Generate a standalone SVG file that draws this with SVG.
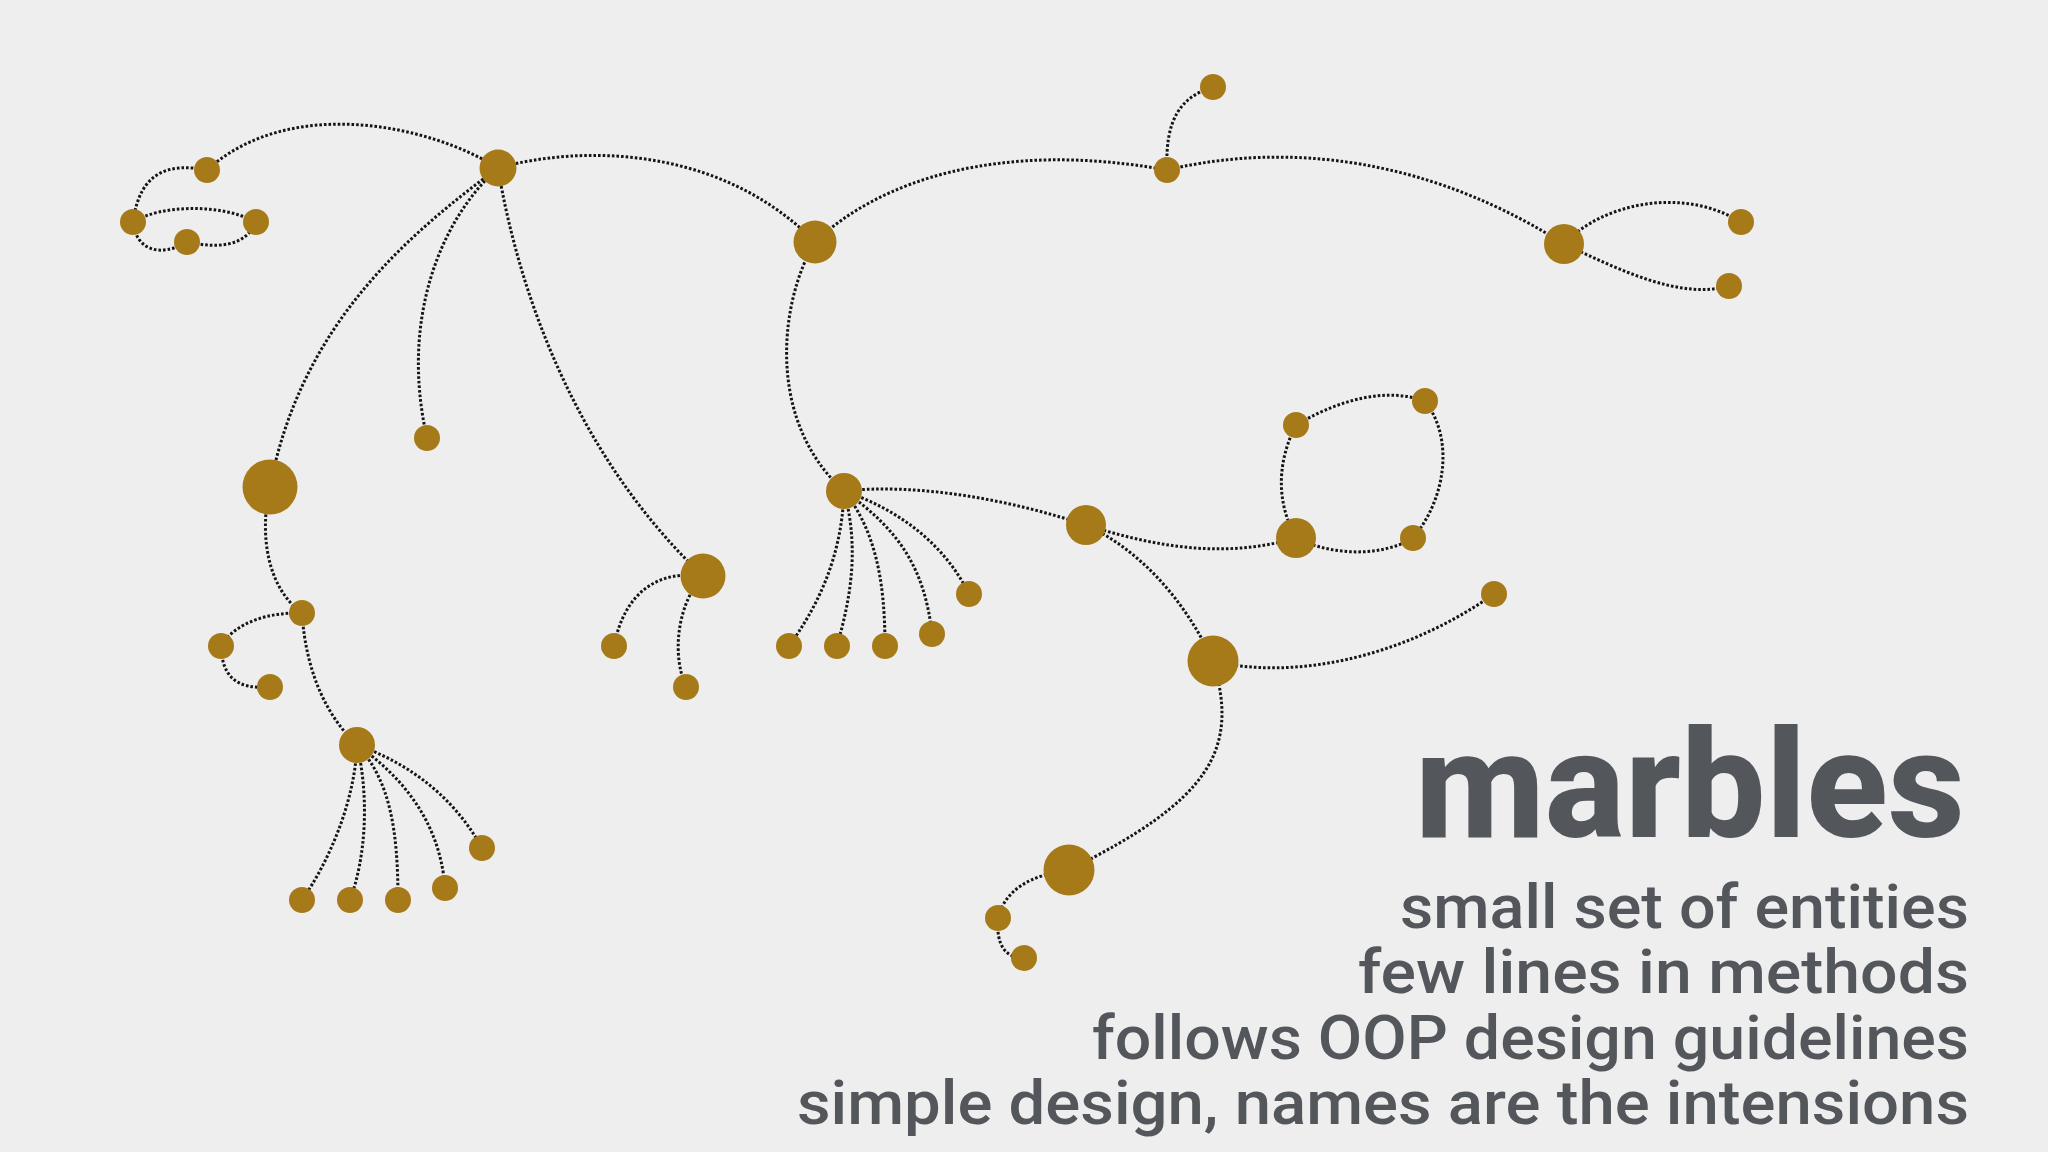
<svg xmlns="http://www.w3.org/2000/svg" width="2048" height="1152" viewBox="0 0 2048 1152">
<style>
.bg{fill:#eeeeef}
.e{fill:none;stroke:#151515;stroke-width:3;stroke-dasharray:2.6 2}
.n{fill:#a67a18}
.t{fill:#53565b;font-family:Roboto,"Noto Sans","Liberation Sans",sans-serif}
.title{font-weight:800;font-size:150px}
.sub{font-size:62px;font-weight:500}
</style>
<rect class="bg" x="0" y="0" width="2048" height="1152"/>
<g id="connectors">
<path class="e" d="M498,168 C430,125 290,95 207,170"/>
<path class="e" d="M207,170 C170,163 140,170 133,222"/>
<path class="e" d="M133,222 C160,205 220,203 256,222"/>
<path class="e" d="M133,222 C136,250 160,258 187,242"/>
<path class="e" d="M187,242 C215,248 245,248 256,222"/>
<path class="e" d="M498,168 C580,145 720,145 815,242"/>
<path class="e" d="M498,168 C400,240 300,330 270,487"/>
<path class="e" d="M498,168 C440,220 400,320 427,438"/>
<path class="e" d="M498,168 C520,300 580,460 703,576"/>
<path class="e" d="M703,576 C660,570 625,590 614,646"/>
<path class="e" d="M703,576 C680,600 670,650 686,687"/>
<path class="e" d="M270,487 C258,540 270,590 302,613"/>
<path class="e" d="M302,613 C270,612 235,622 221,646"/>
<path class="e" d="M221,646 C222,675 235,690 270,687"/>
<path class="e" d="M302,613 C305,660 320,710 357,745"/>
<path class="e" d="M357,745 C355,800 330,860 302,900"/>
<path class="e" d="M357,745 C370,800 365,860 350,900"/>
<path class="e" d="M357,745 C390,780 398,830 398,900"/>
<path class="e" d="M357,745 C400,775 440,820 445,888"/>
<path class="e" d="M357,745 C400,760 450,790 482,848"/>
<path class="e" d="M815,242 C780,300 765,420 844,491"/>
<path class="e" d="M815,242 C880,180 1000,140 1167,170"/>
<path class="e" d="M1167,170 C1165,120 1180,97 1213,87"/>
<path class="e" d="M1167,170 C1250,150 1400,140 1564,244"/>
<path class="e" d="M1564,244 C1600,205 1680,185 1741,222"/>
<path class="e" d="M1564,244 C1620,270 1680,300 1729,286"/>
<path class="e" d="M844,491 C842,560 815,610 789,646"/>
<path class="e" d="M844,491 C860,550 850,600 837,646"/>
<path class="e" d="M844,491 C875,530 885,580 885,646"/>
<path class="e" d="M844,491 C900,530 925,570 932,634"/>
<path class="e" d="M844,491 C900,510 945,545 969,594"/>
<path class="e" d="M844,491 C920,483 1010,500 1086,525"/>
<path class="e" d="M1086,525 C1150,545 1220,560 1296,538"/>
<path class="e" d="M1086,525 C1140,550 1185,600 1213,661"/>
<path class="e" d="M1213,661 C1290,680 1400,660 1494,594"/>
<path class="e" d="M1213,661 C1240,750 1210,800 1069,870"/>
<path class="e" d="M1069,870 C1030,875 1005,890 998,918"/>
<path class="e" d="M998,918 C996,945 1005,958 1024,958"/>
<path class="e" d="M1296,538 C1275,500 1278,460 1296,425"/>
<path class="e" d="M1296,425 C1330,405 1380,385 1425,401"/>
<path class="e" d="M1425,401 C1455,440 1445,500 1413,538"/>
<path class="e" d="M1296,538 C1330,555 1380,558 1413,538"/>
</g>
<g id="n1"><circle class="n" cx="207" cy="170" r="13"/></g>
<g id="n2"><circle class="n" cx="133" cy="222" r="13"/></g>
<g id="n3"><circle class="n" cx="256" cy="222" r="13"/></g>
<g id="n4"><circle class="n" cx="187" cy="242" r="13"/></g>
<g id="hub1"><circle class="n" cx="498" cy="168" r="18.5"/></g>
<g id="n5"><circle class="n" cx="815" cy="242" r="21.5"/></g>
<g id="n6"><circle class="n" cx="1167" cy="170" r="13"/></g>
<g id="n7"><circle class="n" cx="1213" cy="87" r="13"/></g>
<g id="n8"><circle class="n" cx="1564" cy="244" r="20"/></g>
<g id="n9"><circle class="n" cx="1741" cy="222" r="13"/></g>
<g id="n10"><circle class="n" cx="1729" cy="286" r="13"/></g>
<g id="n11"><circle class="n" cx="427" cy="438" r="13"/></g>
<g id="n12"><circle class="n" cx="270" cy="487" r="27.5"/></g>
<g id="n13"><circle class="n" cx="703" cy="576" r="22.5"/></g>
<g id="n14"><circle class="n" cx="614" cy="646" r="13"/></g>
<g id="n15"><circle class="n" cx="686" cy="687" r="13"/></g>
<g id="n16"><circle class="n" cx="302" cy="613" r="13"/></g>
<g id="n17"><circle class="n" cx="221" cy="646" r="13"/></g>
<g id="n18"><circle class="n" cx="270" cy="687" r="13"/></g>
<g id="hub2"><circle class="n" cx="357" cy="745" r="18"/></g>
<g id="h2a"><circle class="n" cx="302" cy="900" r="13"/></g>
<g id="h2b"><circle class="n" cx="350" cy="900" r="13"/></g>
<g id="h2c"><circle class="n" cx="398" cy="900" r="13"/></g>
<g id="h2d"><circle class="n" cx="445" cy="888" r="13"/></g>
<g id="h2e"><circle class="n" cx="482" cy="848" r="13"/></g>
<g id="hub3"><circle class="n" cx="844" cy="491" r="18"/></g>
<g id="h3a"><circle class="n" cx="789" cy="646" r="13"/></g>
<g id="h3b"><circle class="n" cx="837" cy="646" r="13"/></g>
<g id="h3c"><circle class="n" cx="885" cy="646" r="13"/></g>
<g id="h3d"><circle class="n" cx="932" cy="634" r="13"/></g>
<g id="h3e"><circle class="n" cx="969" cy="594" r="13"/></g>
<g id="g1"><circle class="n" cx="1086" cy="525" r="20"/></g>
<g id="n19"><circle class="n" cx="1296" cy="425" r="13"/></g>
<g id="n20"><circle class="n" cx="1425" cy="401" r="13"/></g>
<g id="n21"><circle class="n" cx="1296" cy="538" r="20"/></g>
<g id="n22"><circle class="n" cx="1413" cy="538" r="13"/></g>
<g id="n23"><circle class="n" cx="1213" cy="661" r="25.5"/></g>
<g id="n24"><circle class="n" cx="1494" cy="594" r="13"/></g>
<g id="n25"><circle class="n" cx="1069" cy="870" r="25.5"/></g>
<g id="n26"><circle class="n" cx="998" cy="918" r="13"/></g>
<g id="n27"><circle class="n" cx="1024" cy="958" r="13"/></g>
<g id="caption">
<text class="t title" x="1415" y="837" textLength="550" lengthAdjust="spacingAndGlyphs">marbles</text>
<text class="t sub" x="1400" y="928" textLength="569" lengthAdjust="spacingAndGlyphs">small set of entities</text>
<text class="t sub" x="1358" y="993" textLength="611" lengthAdjust="spacingAndGlyphs">few lines in methods</text>
<text class="t sub" x="1092" y="1059" textLength="877" lengthAdjust="spacingAndGlyphs">follows OOP design guidelines</text>
<text class="t sub" x="797" y="1124" textLength="1172" lengthAdjust="spacingAndGlyphs">simple design, names are the intensions</text>
</g>
</svg>
